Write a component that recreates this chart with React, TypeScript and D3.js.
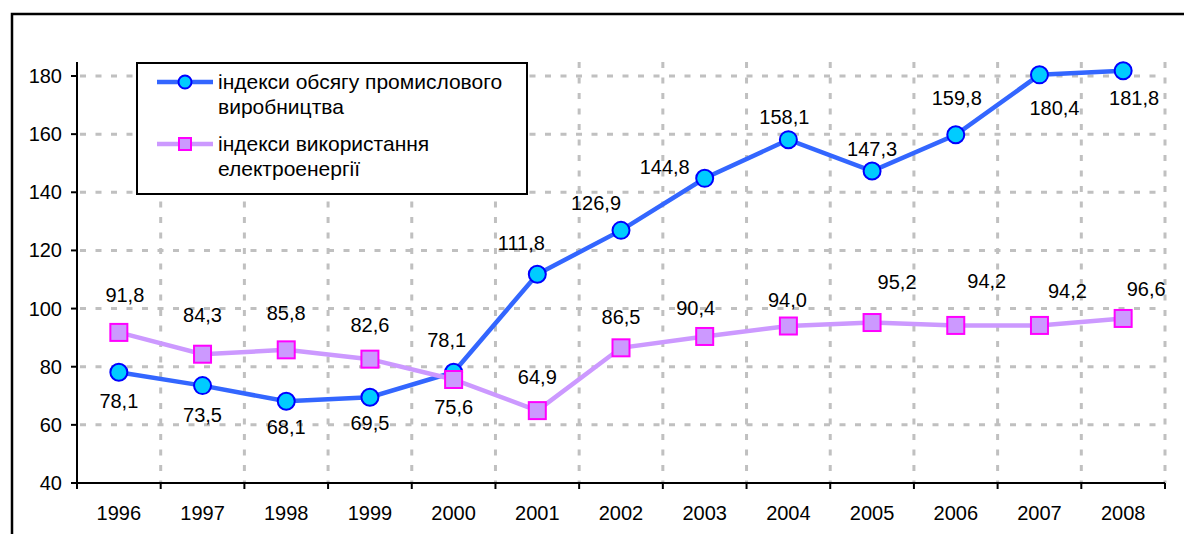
import { useEffect, useRef } from "react";
import * as d3 from "d3";

const years = ["1996", "1997", "1998", "1999", "2000", "2001", "2002", "2003", "2004", "2005", "2006", "2007", "2008"];
const industry = [78.1, 73.5, 68.1, 69.5, 78.1, 111.8, 126.9, 144.8, 158.1, 147.3, 159.8, 180.4, 181.8];
const electricity = [91.8, 84.3, 85.8, 82.6, 75.6, 64.9, 86.5, 90.4, 94.0, 95.2, 94.2, 94.2, 96.6];
const yTicks = [40, 60, 80, 100, 120, 140, 160, 180];
const legendLabels = [
  ["індекси обсягу промислового", "виробництва"],
  ["індекси використання", "електроенергії"],
];

// label nudges (dx, dy from the point), as placed in the original
const industryNudge = [
  [0, 29], [0, 29], [0, 26], [0, 26], [-7, -32], [-16, -31], [-25, -27],
  [-40, -11], [-4, -23], [0, -22], [1, -37], [15, 33], [11, 27],
];
const electricityNudge = [
  [6, -37], [0, -39], [0, -37], [0, -34], [0, 27], [0, -34], [0, -31],
  [-9, -28], [-1, -26], [25, -41], [31, -44], [28, -34], [23, -29],
];

const fmt = (v: number) => v.toFixed(1).replace(".", ",");

const App = () => {
  const ref = useRef<SVGSVGElement>(null);

  useEffect(() => {
    const svg = d3.select(ref.current);
    svg.selectAll("*").remove();

    const left = 77, right = 1165, top = 62, bottom = 483;
    const font = "'Liberation Sans', Arial, sans-serif";

    const x = d3.scaleBand().domain(years).range([left, right]).padding(0);
    const y = d3.scaleLinear().domain([40, 180]).range([bottom, 76]);
    const cx = (i: number) => (x(years[i]) as number) + x.bandwidth() / 2;

    svg.append("rect").attr("width", 1184).attr("height", 534).attr("fill", "#fff");

    // outer frame
    svg
      .append("rect")
      .attr("x", 12)
      .attr("y", 14)
      .attr("width", 1200)
      .attr("height", 560)
      .attr("fill", "none")
      .attr("stroke", "#000")
      .attr("stroke-width", 2.5);

    // grid
    const grid = svg.append("g").attr("stroke", "#c0c0c0").attr("stroke-width", 3).attr("stroke-dasharray", "6,9.5");
    grid
      .selectAll("line.h")
      .data(yTicks.slice(1))
      .enter()
      .append("line")
      .attr("x1", left + 3)
      .attr("x2", right)
      .attr("y1", (d) => y(d))
      .attr("y2", (d) => y(d));
    grid
      .selectAll("line.v")
      .data(years.slice(1).concat(["end"]))
      .enter()
      .append("line")
      .attr("x1", (d, i) => left + (i + 1) * x.bandwidth())
      .attr("x2", (d, i) => left + (i + 1) * x.bandwidth())
      .attr("y1", top)
      .attr("y2", bottom);

    // axes
    const axes = svg.append("g").attr("stroke", "#000").attr("stroke-width", 2);
    axes.append("line").attr("x1", left).attr("x2", left).attr("y1", top).attr("y2", bottom + 6);
    axes.append("line").attr("x1", left).attr("x2", right).attr("y1", bottom).attr("y2", bottom);
    axes
      .selectAll("line.yt")
      .data(yTicks)
      .enter()
      .append("line")
      .attr("x1", left - 6)
      .attr("x2", left)
      .attr("y1", (d) => y(d))
      .attr("y2", (d) => y(d));
    axes
      .selectAll("line.xt")
      .data(years.concat(["end"]))
      .enter()
      .append("line")
      .attr("x1", (d, i) => left + i * x.bandwidth())
      .attr("x2", (d, i) => left + i * x.bandwidth())
      .attr("y1", bottom)
      .attr("y2", bottom + 6);

    svg
      .selectAll("text.yl")
      .data(yTicks)
      .enter()
      .append("text")
      .attr("x", 62)
      .attr("y", (d) => y(d) + 7)
      .attr("text-anchor", "end")
      .style("font-family", font)
      .style("font-size", "20px")
      .text((d) => d);

    svg
      .selectAll("text.xl")
      .data(years)
      .enter()
      .append("text")
      .attr("x", (d, i) => cx(i))
      .attr("y", 520)
      .attr("text-anchor", "middle")
      .style("font-family", font)
      .style("font-size", "20px")
      .text((d) => d);

    // legend box
    svg
      .append("rect")
      .attr("x", 137)
      .attr("y", 63)
      .attr("width", 390)
      .attr("height", 131)
      .attr("fill", "#fff")
      .attr("stroke", "#000")
      .attr("stroke-width", 2);

    const line = d3
      .line<number>()
      .x((d, i) => cx(i))
      .y((d) => y(d));

    // industry series
    svg
      .append("path")
      .datum(industry)
      .attr("d", line)
      .attr("fill", "none")
      .attr("stroke", "#3366ff")
      .attr("stroke-width", 4.5);
    svg
      .selectAll("circle.ind")
      .data(industry)
      .enter()
      .append("circle")
      .attr("cx", (d, i) => cx(i))
      .attr("cy", (d) => y(d))
      .attr("r", 8.5)
      .attr("fill", "#00ccff")
      .attr("stroke", "#0000ff")
      .attr("stroke-width", 2);

    // electricity series
    svg
      .append("path")
      .datum(electricity)
      .attr("d", line)
      .attr("fill", "none")
      .attr("stroke", "#cc99ff")
      .attr("stroke-width", 4.5);
    svg
      .selectAll("rect.el")
      .data(electricity)
      .enter()
      .append("rect")
      .attr("x", (d, i) => cx(i) - 8.5)
      .attr("y", (d) => y(d) - 8.5)
      .attr("width", 17)
      .attr("height", 17)
      .attr("fill", "#cc99ff")
      .attr("stroke", "#ff00ff")
      .attr("stroke-width", 2);

    // data labels
    const addLabels = (values: number[], nudge: number[][]) => {
      svg
        .append("g")
        .selectAll("text")
        .data(values)
        .enter()
        .append("text")
        .attr("x", (d, i) => cx(i) + nudge[i][0])
        .attr("y", (d, i) => y(d) + nudge[i][1] + 7)
        .attr("text-anchor", "middle")
        .style("font-family", font)
        .style("font-size", "20px")
        .text((d) => fmt(d));
    };
    addLabels(industry, industryNudge);
    addLabels(electricity, electricityNudge);

    // legend entries
    const legend = svg.append("g");
    legend
      .append("line")
      .attr("x1", 157)
      .attr("x2", 213)
      .attr("y1", 82)
      .attr("y2", 82)
      .attr("stroke", "#3366ff")
      .attr("stroke-width", 4.5);
    legend
      .append("circle")
      .attr("cx", 185)
      .attr("cy", 82)
      .attr("r", 6.5)
      .attr("fill", "#00ccff")
      .attr("stroke", "#0000ff")
      .attr("stroke-width", 2);
    legend
      .append("line")
      .attr("x1", 157)
      .attr("x2", 213)
      .attr("y1", 144)
      .attr("y2", 144)
      .attr("stroke", "#cc99ff")
      .attr("stroke-width", 4.5);
    legend
      .append("rect")
      .attr("x", 179)
      .attr("y", 138)
      .attr("width", 12)
      .attr("height", 12)
      .attr("fill", "#cc99ff")
      .attr("stroke", "#ff00ff")
      .attr("stroke-width", 2);

    legendLabels.forEach((lines, k) => {
      lines.forEach((t, j) => {
        legend
          .append("text")
          .attr("x", 218)
          .attr("y", 89 + k * 62 + j * 25)
          .style("font-family", font)
          .style("font-size", "21px")
          .text(t);
      });
    });
  }, []);

  return (
    <svg
      ref={ref}
      width={1184}
      height={534}
      style={{ position: "absolute", left: 0, top: 0, display: "block" }}
    />
  );
};

export default App;
